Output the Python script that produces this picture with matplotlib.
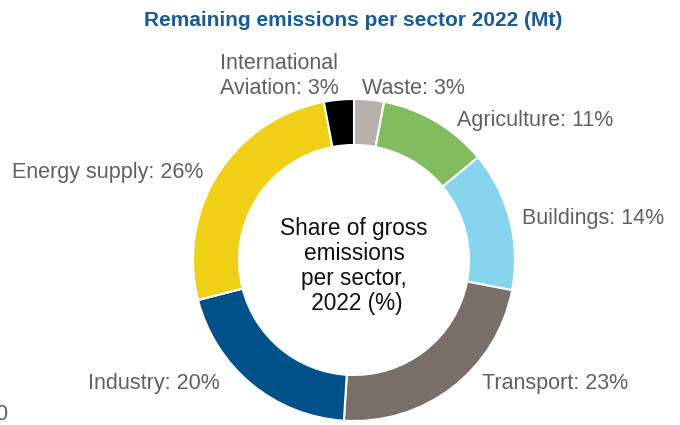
import matplotlib.pyplot as plt

sectors = ["Waste", "Agriculture", "Buildings", "Transport", "Industry",
           "Energy supply", "International\nAviation"]
shares = [3, 11, 14, 23, 20, 26, 3]
colors = ["#b8b0aa", "#82bc5f", "#87d4ee", "#7a6f68", "#00508a", "#f0d016", "#000000"]

# label anchor positions in pixels (x, y from top) and alignment
label_pos = [(362, 88, "left"), (457, 120, "left"), (522, 218, "left"),
             (482, 383, "left"), (220, 383, "right"), (203, 172, "right"),
             (279, 76, "center")]

W, H = 680, 425
fig = plt.figure(figsize=(W / 100, H / 100), dpi=100)
ax = fig.add_axes([0, 0, 1, 1])

cx, cy, r = 354, H - 260, 161
ax.pie(shares, colors=colors, startangle=90, counterclock=False,
       center=(cx, cy), radius=r, frame=True,
       wedgeprops=dict(width=46, edgecolor="white", linewidth=1.5))
ax.set_xlim(0, W)
ax.set_ylim(0, H)
ax.set_aspect("equal")
ax.axis("off")

font = "Liberation Sans"
gray = "#606060"
for name, val, (x, y, ha) in zip(sectors, shares, label_pos):
    ax.text(x, H - y, f"{name}: {val}%", ha=ha, va="center", fontsize=15.5,
            color=gray, family=font, linespacing=1.25)

ax.text(cx, H - 266, "Share of gross\nemissions\nper sector,\n 2022 (%)", ha="center",
        va="center", fontsize=16.3, color="#111111", family=font, linespacing=1.12)

ax.text(353, H - 20, "Remaining emissions per sector 2022 (Mt)", ha="center", va="center",
        fontsize=15, fontweight="bold", color="#1b5b94", family=font)

ax.text(-5, H - 415, "0", ha="left", va="center", fontsize=15.5, color=gray, family=font)

fig.savefig("out.png", dpi=100)
